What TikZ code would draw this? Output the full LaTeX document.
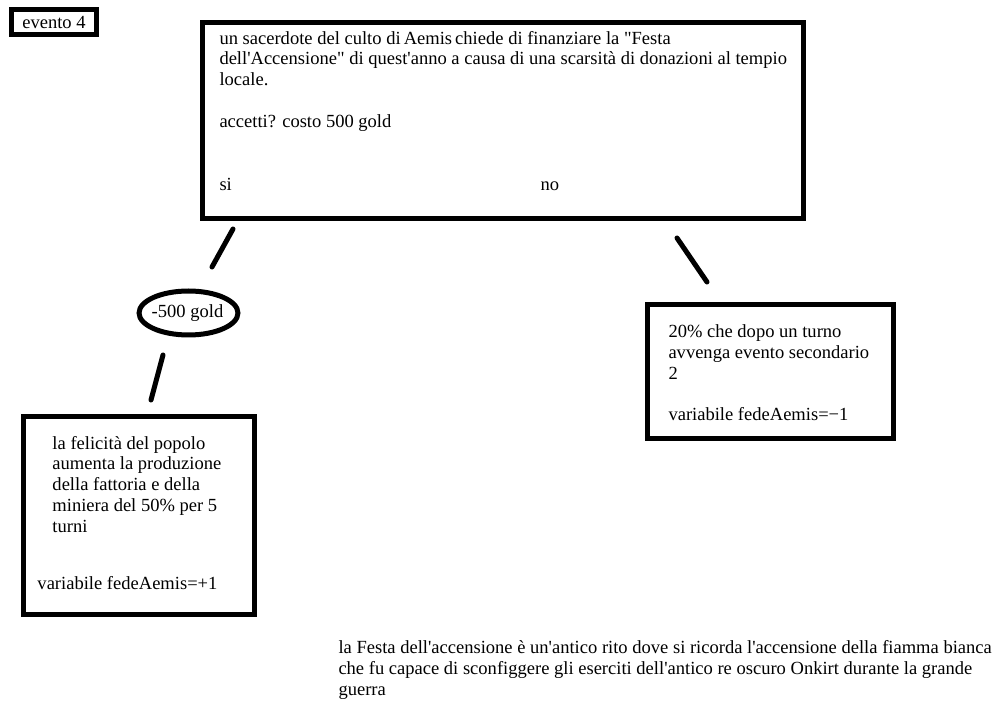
\documentclass[tikz,border=0pt]{standalone}
\usepackage{fontspec}
\setmainfont{Liberation Serif}[Ligatures=TeXOff]
\usetikzlibrary{shapes.geometric}

\begin{document}
\begin{tikzpicture}[x=0.75pt, y=-0.75pt, line width=3.75pt, font=\fontsize{13.9}{15.6}\selectfont]
	\tikzset{
		riquadro/.style={draw, inner sep=0pt},
		testo/.style={anchor=north west, inner sep=0pt, align=left},
		tratto/.style={line cap=round},
	}
	\useasboundingbox (0,0) rectangle (993,712);

	% titolo
	\node[riquadro, minimum width=63.75pt, minimum height=19.1pt] (evento) at (54,22.25) {evento 4};

	% domanda
	\node[riquadro, minimum width=450.75pt, minimum height=147pt] (domanda) at (503,120.5) {};
	\node[testo] (domandatesto) at (217,27.1) {\strut un sacerdote del culto di\,Aemis\,chiede di finanziare la "Festa\\
		dell'Accensione" di quest'anno a causa di una scarsità di donazioni al tempio\\
		locale.\\[15.6pt]
		accetti? costo 500 gold};
	\node[testo] (si) at (217,173.9) {\strut si};
	\node[testo] (no) at (538,173.9) {\strut no};

	% ramo si
	\coordinate (sia) at (233,229);
	\coordinate (sib) at (212,267);
	\draw[tratto] (sia) -- (sib);

	\node[anchor=base, inner sep=0pt] (oro) at (187.5,317.5) {-500 gold};
	\draw (188.5,313) ellipse [x radius=37.1pt, y radius=16.5pt];

	\coordinate (oroa) at (163,355);
	\coordinate (orob) at (151,400);
	\draw[tratto] (oroa) -- (orob);

	\node[riquadro, minimum width=173.25pt, minimum height=148.5pt] (esitosi) at (139,515.5) {};
	\node[testo] (esitositesto) at (50,432.1) {\strut la felicità del popolo\\
		aumenta la produzione\\
		della fattoria e della\\
		miniera del 50\% per 5\\
		turni};
	\node[testo] (fedesi) at (35,572.1) {\strut variabile fedeAemis=+1};

	% ramo no
	\coordinate (noa) at (677,238);
	\coordinate (nob) at (707,282);
	\draw[tratto] (noa) -- (nob);

	\node[riquadro, minimum width=184.5pt, minimum height=100.5pt] (esitono) at (770.5,371.5) {};
	\node[testo] (esitonotesto) at (666,320.4) {\strut 20\% che dopo un turno\\
		avvenga evento secondario\\
		2\\[15.6pt]
		variabile fedeAemis=−1};

	% nota
	\node[testo] (nota) at (336,636.4) {\strut la Festa dell'accensione è un'antico rito dove si ricorda l'accensione della fiamma bianca\\
		che fu capace di sconfiggere gli eserciti dell'antico re oscuro Onkirt durante la grande\\
		guerra};

\end{tikzpicture}
\end{document}
